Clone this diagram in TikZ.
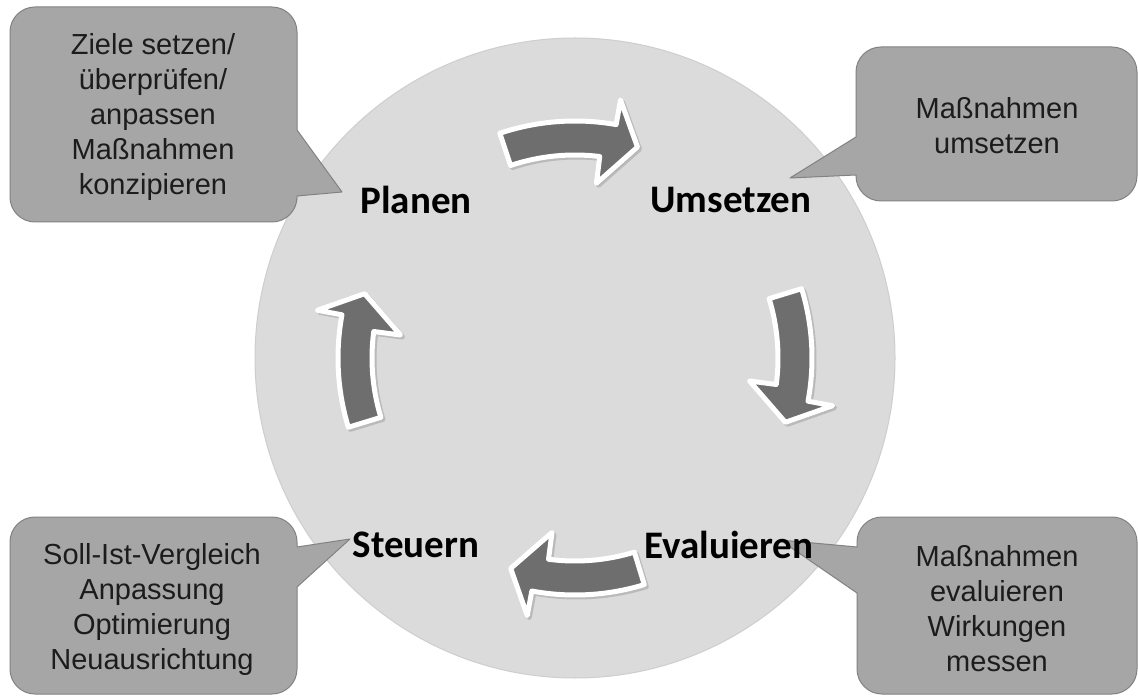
\documentclass[tikz,border=0pt]{standalone}
\usepackage{fontspec}
\setmainfont{Liberation Sans}
\newfontfamily\lblfont{Carlito}
\usetikzlibrary{shadows}
\definecolor{circgray}{RGB}{219,219,219}
\definecolor{circedge}{RGB}{206,206,206}
\definecolor{boxgray}{RGB}{166,166,166}
\definecolor{boxborder}{RGB}{130,130,130}
\definecolor{arrowgray}{RGB}{110,110,110}
\definecolor{txtgray}{RGB}{28,28,28}
\begin{document}
\begin{tikzpicture}[x=1pt,y=1pt,
  callout/.style={fill=boxgray, draw=boxborder, line width=1pt, line join=round},
  callouttext/.style={align=center, font=\fontsize{29}{35}\selectfont, text=txtgray, inner sep=0pt},
  phase/.style={font=\lblfont\bfseries\fontsize{39}{44}\selectfont, inner sep=0pt, text=black},
  cyclearrow/.style={fill=arrowgray, draw=white, line width=5pt, line join=round,
    drop shadow={fill=black, draw=black, line width=5pt, line join=round, opacity=0.15, shadow xshift=2pt, shadow yshift=-2pt}}]
\useasboundingbox (0,0) rectangle (1138,697);
\fill[white] (0,0) rectangle (1138,697);

% big circle
\node[circle, fill=circgray, draw=circedge, line width=1pt, minimum size=640pt, inner sep=0pt] (cyc) at (575,339) {};

% callouts
\draw[callout] (35,690) -- (272,690) arc[start angle=90,end angle=0,radius=25]
  -- (297,567) -- (342,505) -- (297,501) -- (297,500) arc[start angle=0,end angle=-90,radius=25]
  -- (35,475) arc[start angle=270,end angle=180,radius=25]
  -- (10,665) arc[start angle=180,end angle=90,radius=25] -- cycle;

\draw[callout] (881,650) -- (1112,650) arc[start angle=90,end angle=0,radius=25]
  -- (1137,521) arc[start angle=0,end angle=-90,radius=25]
  -- (881,496) arc[start angle=270,end angle=180,radius=25]
  -- (856,522) -- (790,519) -- (856,560)
  -- (856,625) arc[start angle=180,end angle=90,radius=25] -- cycle;

\draw[callout] (35,180) -- (272,180) arc[start angle=90,end angle=0,radius=25]
  -- (297,150) -- (350,158) -- (297,110)
  -- (297,28) arc[start angle=0,end angle=-90,radius=25]
  -- (35,3) arc[start angle=270,end angle=180,radius=25]
  -- (10,155) arc[start angle=180,end angle=90,radius=25] -- cycle;

\draw[callout] (882,180) -- (1112,180) arc[start angle=90,end angle=0,radius=25]
  -- (1137,28) arc[start angle=0,end angle=-90,radius=25]
  -- (882,3) arc[start angle=270,end angle=180,radius=25]
  -- (857,104) -- (780,157) -- (857,150)
  -- (857,155) arc[start angle=180,end angle=90,radius=25] -- cycle;

\node[callouttext] (t1) at (153,580) {Ziele setzen/\\überprüfen/\\anpassen\\Maßnahmen\\konzipieren};
\node[callouttext] (t2) at (997,571) {Maßnahmen\\umsetzen};
\node[callouttext] (t3) at (152,88) {Soll-Ist-Vergleich\\Anpassung\\Optimierung\\Neuausrichtung};
\node[callouttext] (t4) at (997,88) {Maßnahmen\\evaluieren\\Wirkungen\\messen};

% phase labels
\node[phase] (planen) at (416,497) {Planen};
\node[phase] (umsetzen) at (731,497) {Umsetzen};
\node[phase] (evaluieren) at (729,152) {Evaluieren};
\node[phase] (steuern) at (416,152) {Steuern};

% cycle arrows
\begin{scope}[shift={(575,339)}]
\foreach \t/\p in {108.5/73.5, 17/-17, -73/-107, 197/163} {
  \draw[cyclearrow] (\t:237) arc[start angle=\t, end angle=\p+6.5, radius=237]
    -- (\p+6.5:262) -- (\p:220) -- (\p+9.5:176) -- (\p+9.5:203)
    arc[start angle=\p+9.5, end angle=\t, radius=203] -- cycle;
}
\end{scope}
\end{tikzpicture}
\end{document}
